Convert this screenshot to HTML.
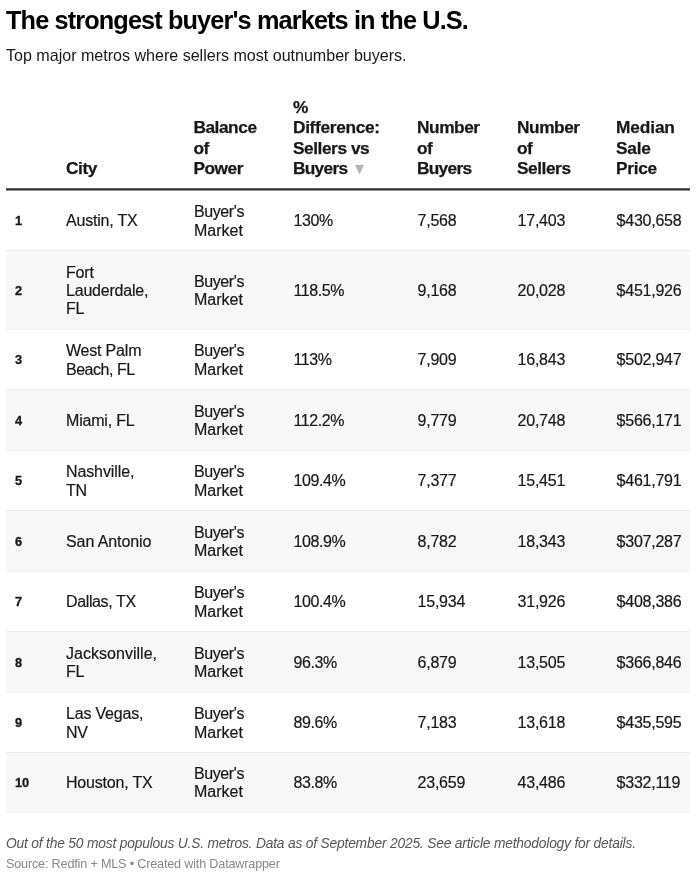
<!DOCTYPE html>
<html lang="en">
<head>
<meta charset="utf-8">
<title>The strongest buyer's markets in the U.S.</title>
<style>
html,body{margin:0;padding:0;background:#fff;}
body{width:696px;height:877px;overflow:hidden;position:relative;font-family:"Liberation Sans",Arial,sans-serif;color:#181818;}
h1{position:absolute;left:6px;top:6px;margin:0;font-size:25.3px;line-height:28px;font-weight:700;color:#000;white-space:nowrap;letter-spacing:-0.88px;}
p.sub{position:absolute;left:6px;top:44px;margin:0;font-size:16.1px;line-height:22px;color:#181818;white-space:nowrap;letter-spacing:-0.02px;}
table{position:absolute;left:6px;top:90px;width:684px;border-collapse:separate;border-spacing:0;table-layout:fixed;font-size:16px;line-height:18.4px;}
th{-webkit-text-stroke:0.25px #181818;font-weight:700;text-align:left;vertical-align:bottom;padding:0 0 10.5px 0;font-size:17.3px;line-height:20.5px;letter-spacing:-0.45px;border-bottom:1px solid #333;background:linear-gradient(#646464,#646464) left bottom/100% 1px no-repeat;height:100px;box-sizing:border-box;white-space:nowrap;}
td{padding:2.4px 0 0 0;vertical-align:middle;border-top:1px solid #f0f0f0;box-sizing:border-box;white-space:nowrap;}
tr.alt td{background:#f8f8f8;border-top-color:#ececec;}
td.r{font-size:12.8px;font-weight:700;padding-left:9px;padding-top:1.6px;-webkit-text-stroke:0.3px #181818;}
tbody tr:last-child td{border-bottom:1px solid #f0f0f0;padding-top:1.4px;}
tbody tr:last-child td.r{padding-top:0.6px;}
td{-webkit-text-stroke:0.2px #181818;}
td.c{letter-spacing:-0.2px;}
td.b{padding-left:0;}
td.b span{letter-spacing:-0.4px;}
td.p{padding-left:1.5px;letter-spacing:-0.4px;}
td.n{padding-left:1.6px;letter-spacing:-0.25px;}
td.n:last-child{padding-left:.6px;}
th .sh{position:relative;left:-0.6px;display:inline-block;}
th:nth-child(4),th:nth-child(5),th:nth-child(6){padding-left:1px;}
tbody tr:first-child td{border-top:1px solid #8f8f8f;}
.arrow{display:inline-block;vertical-align:baseline;margin-left:3.2px;position:relative;top:0.3px;}
p.note{position:absolute;left:6px;top:834px;margin:0;font-size:13.8px;line-height:20px;font-style:italic;color:#555;white-space:nowrap;letter-spacing:-0.19px;}
p.src{position:absolute;left:6px;top:856px;margin:0;font-size:12.67px;line-height:16px;color:#888;white-space:nowrap;letter-spacing:-0.19px;}
</style>
</head>
<body>
<h1>The strongest buyer's markets in the U.S.</h1>
<p class="sub">Top major metros where sellers most outnumber buyers.</p>
<table>
<colgroup><col style="width:60px"><col style="width:128px"><col style="width:98px"><col style="width:124px"><col style="width:100px"><col style="width:100px"><col style="width:74px"></colgroup>
<thead>
<tr><th></th><th>City</th><th><span class="sh">Balance<br>of<br>Power</span></th><th>%<br><span style="letter-spacing:-0.33px">Difference:</span><br>Sellers vs<br><span style="letter-spacing:-0.72px">Buyers</span> <svg class="arrow" width="9" height="9.5" viewBox="0 0 9 9.5"><polygon points="0,0 9,0 4.5,9.5" fill="#b4b4b4"/></svg></th><th>Number<br>of<br><span style="letter-spacing:-0.72px">Buyers</span></th><th>Number<br>of<br>Sellers</th><th><span style="letter-spacing:-0.12px">Median</span><br><span style="letter-spacing:-0.25px">Sale</span><br><span style="letter-spacing:-0.29px">Price</span></th></tr>
</thead>
<tbody>
<tr style="height:60px"><td class="r">1</td><td class="c">Austin, TX</td><td class="b"><span>Buyer's</span><br>Market</td><td class="p">130%</td><td class="n">7,568</td><td class="n">17,403</td><td class="n">$430,658</td></tr>
<tr class="alt" style="height:79px"><td class="r">2</td><td class="c">Fort<br>Lauderdale,<br>FL</td><td class="b"><span>Buyer's</span><br>Market</td><td class="p">118.5%</td><td class="n">9,168</td><td class="n">20,028</td><td class="n">$451,926</td></tr>
<tr style="height:60px"><td class="r">3</td><td class="c">West Palm<br><span style="letter-spacing:-0.48px">Beach, FL</span></td><td class="b"><span>Buyer's</span><br>Market</td><td class="p">113%</td><td class="n">7,909</td><td class="n">16,843</td><td class="n">$502,947</td></tr>
<tr class="alt" style="height:61px"><td class="r">4</td><td class="c">Miami, FL</td><td class="b"><span>Buyer's</span><br>Market</td><td class="p">112.2%</td><td class="n">9,779</td><td class="n">20,748</td><td class="n">$566,171</td></tr>
<tr style="height:60px"><td class="r">5</td><td class="c"><span style="letter-spacing:-0.11px">Nashville,</span><br>TN</td><td class="b"><span>Buyer's</span><br>Market</td><td class="p">109.4%</td><td class="n">7,377</td><td class="n">15,451</td><td class="n">$461,791</td></tr>
<tr class="alt" style="height:61px"><td class="r">6</td><td class="c"><span style="letter-spacing:-0.08px">San Antonio</span></td><td class="b"><span>Buyer's</span><br>Market</td><td class="p">108.9%</td><td class="n">8,782</td><td class="n">18,343</td><td class="n">$307,287</td></tr>
<tr style="height:60px"><td class="r">7</td><td class="c"><span style="letter-spacing:-0.37px">Dallas, TX</span></td><td class="b"><span>Buyer's</span><br>Market</td><td class="p">100.4%</td><td class="n">15,934</td><td class="n">31,926</td><td class="n">$408,386</td></tr>
<tr class="alt" style="height:61px"><td class="r">8</td><td class="c"><span style="letter-spacing:0.03px">Jacksonville,</span><br>FL</td><td class="b"><span>Buyer's</span><br>Market</td><td class="p">96.3%</td><td class="n">6,879</td><td class="n">13,505</td><td class="n">$366,846</td></tr>
<tr style="height:60px"><td class="r">9</td><td class="c">Las Vegas,<br>NV</td><td class="b"><span>Buyer's</span><br>Market</td><td class="p">89.6%</td><td class="n">7,183</td><td class="n">13,618</td><td class="n">$435,595</td></tr>
<tr class="alt" style="height:61px"><td class="r">10</td><td class="c">Houston, TX</td><td class="b"><span>Buyer's</span><br>Market</td><td class="p">83.8%</td><td class="n">23,659</td><td class="n">43,486</td><td class="n">$332,119</td></tr>
</tbody>
</table>
<p class="note">Out of the 50 most populous U.S. metros. Data as of September 2025. See article methodology for details.</p>
<p class="src">Source: Redfin + MLS &bull; Created with Datawrapper</p>
</body>
</html>
